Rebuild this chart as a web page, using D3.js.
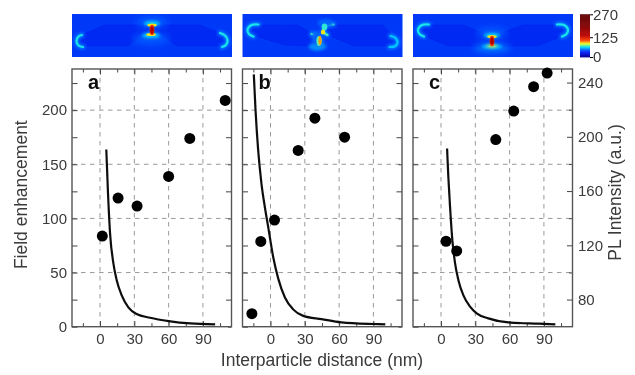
<!DOCTYPE html>
<html>
<head>
<meta charset="utf-8">
<script src="https://cdn.jsdelivr.net/npm/d3@7"></script>
<style>
body { margin: 0; background: #fff; }
text { font-family: "Liberation Sans", Arial, sans-serif; fill: #3a3a3a; }
</style>
</head>
<body>
<div id="chart-area"></div>
<script>
// scatter points
const panelNames = ["a", "b", "c"];
const distA = [2, 15.8, 32.4, 60, 78.5, 109.5];
const fieldA = [83.7, 118.8, 111.4, 138.8, 173.9, 209];
const distB = [-16.3, -8.5, 3.5, 24.2, 38.8, 64.8];
const fieldB = [12, 78.8, 98.5, 162.8, 192.6, 175];
const distC = [4.4, 13.7, 47.9, 63.6, 81, 92.8];
const plC = [123, 115.9, 198, 219, 237, 247];

// solid curves
const curveXA = [5.5, 7, 8.8, 11.7, 14.6, 19, 24.8, 32, 43.8, 60, 79, 100.7];
const curveYA = [163.7, 123, 86, 58.5, 43, 29, 17.8, 11.7, 8.3, 5.2, 3, 2.2];
const curveXB = [-14.6, -13.1, -10.8, -7.9, -5, -2, 2.3, 6.7, 12.6, 19.8, 28.6, 44.7, 62, 90, 100.4];
const curveYB = [233, 200, 163, 132, 110.8, 92, 64.6, 44.6, 27, 16, 10, 7, 4, 2.5, 2.2];
const curveXC = [5.3, 6.4, 7.9, 9.9, 12.3, 15.2, 19.6, 25.4, 31.2, 41.4, 58.9, 85.2, 100];
const curveYC = [164.6, 138.5, 110.8, 80, 58.5, 43, 29, 18.5, 12.3, 7.7, 4, 2.8, 2.2];

// tick values
const xMajor = [0, 30, 60, 90];
const xMinor = [-15, 15, 45, 75, 105];
const yMajor = [0, 50, 100, 150, 200];
const yMinor = [25, 75, 125, 175, 225];
const plMajor = [80, 120, 160, 200, 240];
const plMinor = [100, 140, 180, 220];
const barTicks = [0, 125, 270];

// colour map of the field images
const jetStops = [0, 25, 42, 64, 85, 106, 138, 200, 270];
const jetColors = ["#00008f", "#0010e8", "#0048ff", "#00e0ff", "#f0ff20", "#ff4000", "#b80000", "#800000", "#600000"];

// field images, read in image pixels: [x, y, rx, ry, field]
const spotsA = [[80, 8, 16, 6, 44], [79, 25, 18, 6, 44], [80, 9.5, 8, 2.6, 62], [79, 21.5, 9, 2.6, 62], [80, 11, 4.8, 1.6, 88], [79, 20.5, 4.8, 1.5, 88], [80, 16, 2.4, 5.2, 112], [80, 16, 1.8, 3.6, 150]];
const spotsB = [[83, 9, 8, 4, 46], [75, 32.5, 9, 4, 52], [75, 24, 6, 7, 46], [82, 13, 2.8, 3.4, 68], [76.5, 27, 2.6, 5, 72], [77.5, 26.5, 1.6, 4.5, 96], [80.5, 18, 2.2, 2.6, 88]];
const spotsC = [[79, 19, 15, 6, 44], [79, 34, 18, 5, 48], [79, 21.5, 8, 2.6, 62], [79, 32.5, 10, 2, 62], [79, 22.5, 4.8, 1.6, 88], [79, 32, 5.2, 1.3, 88], [79, 27, 2.4, 5.2, 112], [79, 27, 1.8, 3.6, 150]];

// particle rims: points and field
const rimsA = [
  { pts: [[10, 21], [6.5, 22.5], [4.5, 27], [6.5, 31.5], [11, 33]], v: 66 },
  { pts: [[148, 19], [153, 21.5], [155.5, 26], [154, 31], [150, 33]], v: 66 }
];
const rimsB = [
  { pts: [[16, 10.5], [9, 11], [5, 15.5], [6.5, 20], [11, 22.5]], v: 66 },
  { pts: [[148, 22], [153, 24], [155, 28], [153, 32], [147, 33]], v: 60 },
  { pts: [[91, 10.5], [85, 11], [81, 15], [82, 19], [85, 21]], v: 70 },
  { pts: [[69, 20], [75, 22.5], [78.5, 27], [77, 31], [73, 33]], v: 70 }
];
const rimsC = [
  { pts: [[16, 10.5], [9, 11], [5, 15.5], [6.5, 20], [11, 22.5]], v: 66 },
  { pts: [[144, 10.5], [151, 11], [155, 15.5], [153.5, 20], [149, 22.5]], v: 66 }
];

// particle outlines
const shapesA = [[[7, 22], [33, 11], [76, 11], [78, 15], [55, 32], [10, 32], [6, 27]], [[153, 21], [127, 11], [84, 11], [82, 15], [105, 32], [150, 32], [154, 27]]];
const shapesB = [[[10, 11.5], [55, 11], [77, 24], [74, 32], [42, 31], [7, 20]], [[85, 11], [140, 11], [154, 26], [150, 32], [112, 32], [83, 20]]];
const shapesC = [[[9, 11], [50, 11], [77, 22], [77, 32], [36, 32], [6, 20]], [[151, 11], [110, 11], [81, 22], [81, 32], [124, 32], [154, 20]]];

const heatLefts = [72, 242.5, 413];
const lefts = [72, 242.5, 413];

let margin = { top: 69, bottom: 48 };
let width = 159.5;
let height = 375 - margin.top - margin.bottom - 0.3;

let svg = d3.select("#chart-area")
  .append("svg")
  .attr("width", 635)
  .attr("height", 375);

let defs = svg.append("defs");
defs.append("filter")
  .attr("id", "soft")
  .attr("filterUnits", "userSpaceOnUse")
  .attr("x", 0).attr("y", 0).attr("width", 635).attr("height", 375)
  .append("feGaussianBlur")
  .attr("stdDeviation", 0.45);
[["blur1", 0.7], ["blur2", 1.5], ["blur3", 3]].forEach(function (f) {
  defs.append("filter")
    .attr("id", f[0])
    .attr("filterUnits", "userSpaceOnUse")
    .attr("x", -20).attr("y", -20).attr("width", 200).attr("height", 83)
    .append("feGaussianBlur")
    .attr("stdDeviation", f[1]);
});

let root = svg.append("g").attr("filter", "url(#soft)");

let x = d3.scaleLinear().domain([-24.5, 115]).range([0, width]);
let y = d3.scaleLinear().domain([0, 238]).range([height, 0]);
let yPL = d3.scaleLinear().domain([60, 250]).range([height, 0]);
let jet = d3.scaleLinear().domain(jetStops).range(jetColors);

let line = d3.line()
  .x(function (d) { return x(d[0]); })
  .y(function (d) { return y(d[1]); })
  .curve(d3.curveMonotoneX);

function drawHeat(i, spots, rims, shapes) {
  let clipId = "heat" + i;
  defs.append("clipPath").attr("id", clipId)
    .append("rect").attr("width", 160).attr("height", 43);

  let frame = root.append("g").attr("transform", "translate(" + heatLefts[i] + ",14)");
  frame.append("rect").attr("width", 160).attr("height", 43).attr("fill", jet(37));
  let g = frame.append("g").attr("clip-path", "url(#" + clipId + ")");

  let smooth = d3.line().curve(d3.curveCatmullRom);

  // particles sit a little darker than the field around them
  g.selectAll(".shape").data(shapes).enter().append("path")
    .attr("d", function (d) { return d3.line()(d) + "Z"; })
    .attr("fill", jet(33))
    .attr("stroke", jet(30)).attr("stroke-width", 0.6)
    .attr("filter", "url(#blur1)");

  let rimPath = function (d) { return smooth(d.pts); };
  g.selectAll(".halo").data(rims).enter().append("path")
    .attr("d", rimPath)
    .attr("fill", "none")
    .attr("stroke", jet(50)).attr("stroke-width", 5).attr("stroke-linecap", "round")
    .attr("filter", "url(#blur2)");
  g.selectAll(".mid").data(rims).enter().append("path")
    .attr("d", rimPath)
    .attr("fill", "none")
    .attr("stroke", function (d) { return jet(d.v); }).attr("stroke-width", 2.2).attr("stroke-linecap", "round")
    .attr("filter", "url(#blur1)");

  g.selectAll(".spot").data(spots).enter().append("ellipse")
    .attr("cx", function (d) { return d[0]; })
    .attr("cy", function (d) { return d[1]; })
    .attr("rx", function (d) { return d[2]; })
    .attr("ry", function (d) { return d[3]; })
    .attr("fill", function (d) { return jet(d[4]); })
    .attr("filter", function (d) { return d[2] > 10 ? "url(#blur3)" : d[2] > 5 ? "url(#blur2)" : "url(#blur1)"; });
}

drawHeat(0, spotsA, rimsA, shapesA);
drawHeat(1, spotsB, rimsB, shapesB);
drawHeat(2, spotsC, rimsC, shapesC);

// colour bar
let barY = d3.scaleLinear().domain([0, 270]).range([57, 14.3]);
let bar = root.append("g").attr("transform", "translate(580,0)");
bar.selectAll("rect")
  .data(d3.range(0, 270, 3))
  .enter()
  .append("rect")
  .attr("x", 0)
  .attr("y", function (d) { return barY(d + 3); })
  .attr("width", 10)
  .attr("height", function (d) { return barY(d) - barY(d + 3) + 0.4; })
  .attr("fill", function (d) { return jet(d); });

let barAxis = d3.axisRight(barY).tickValues(barTicks).tickSize(3).tickPadding(0).tickSizeOuter(0);
bar.append("g")
  .attr("transform", "translate(10,0)")
  .call(barAxis)
  .call(function (g) { g.select(".domain").remove(); })
  .selectAll("text").attr("font-size", 15).attr("font-family", null);

function styleAxis(g) {
  g.select(".domain").remove();
  g.selectAll("line").attr("stroke", "#444").attr("stroke-width", 1);
}

function drawPanel(i, xs, ys, plot, curveX, curveY) {
  let g = root.append("g")
    .attr("transform", "translate(" + lefts[i] + "," + margin.top + ")");

  // grid
  g.selectAll(".gx").data(xMajor).enter().append("line")
    .attr("x1", x).attr("x2", x).attr("y1", 0).attr("y2", height)
    .attr("stroke", "#999").attr("stroke-dasharray", "4.5,4.5");
  g.selectAll(".gy").data(yMajor.slice(1)).enter().append("line")
    .attr("y1", y).attr("y2", y).attr("x1", 0).attr("x2", width)
    .attr("stroke", "#999").attr("stroke-dasharray", "4.5,4.5");

  // x axes, ticks point inward
  let bottom = d3.axisBottom(x).tickValues(xMajor).tickSizeInner(-5.5).tickSizeOuter(0).tickPadding(7);
  g.append("g").attr("transform", "translate(0," + height + ")").call(bottom).call(styleAxis)
    .selectAll("text").attr("font-size", 15).attr("font-family", null);
  g.append("g").attr("transform", "translate(0," + height + ")")
    .call(d3.axisBottom(x).tickValues(xMinor).tickSizeInner(-3.5).tickSizeOuter(0).tickFormat(""))
    .call(styleAxis);
  g.append("g").call(d3.axisTop(x).tickValues(xMajor).tickSizeInner(-5.5).tickSizeOuter(0).tickFormat("")).call(styleAxis);
  g.append("g").call(d3.axisTop(x).tickValues(xMinor).tickSizeInner(-3.5).tickSizeOuter(0).tickFormat("")).call(styleAxis);

  // y axes
  let left = d3.axisLeft(y).tickValues(yMajor).tickSizeInner(-5.5).tickSizeOuter(0).tickPadding(5);
  if (i > 0) left.tickFormat("");
  g.append("g").call(left).call(styleAxis)
    .selectAll("text").attr("font-size", 15).attr("font-family", null);
  g.append("g").call(d3.axisLeft(y).tickValues(yMinor).tickSizeInner(-5.5).tickSizeOuter(0).tickFormat("")).call(styleAxis);

  if (i === 2) {
    g.append("g").attr("transform", "translate(" + width + ",0)")
      .call(d3.axisRight(yPL).tickValues(plMajor).tickSizeInner(-5.5).tickSizeOuter(0).tickPadding(5.5))
      .call(styleAxis)
      .selectAll("text").attr("font-size", 15).attr("font-family", null);
    g.append("g").attr("transform", "translate(" + width + ",0)")
      .call(d3.axisRight(yPL).tickValues(plMinor).tickSizeInner(-3.5).tickSizeOuter(0).tickFormat(""))
      .call(styleAxis);
  } else {
    g.append("g").attr("transform", "translate(" + width + ",0)")
      .call(d3.axisRight(y).tickValues(yMajor).tickSizeInner(-3.5).tickSizeOuter(0).tickFormat("")).call(styleAxis);
    g.append("g").attr("transform", "translate(" + width + ",0)")
      .call(d3.axisRight(y).tickValues(yMinor).tickSizeInner(-5.5).tickSizeOuter(0).tickFormat("")).call(styleAxis);
  }

  // frame
  g.append("rect").attr("width", width).attr("height", height)
    .attr("fill", "none").attr("stroke", "#555").attr("stroke-width", 1.4);

  // curve
  g.append("path")
    .datum(curveX.map(function (d, k) { return [d, curveY[k]]; }))
    .attr("d", line)
    .attr("fill", "none")
    .attr("stroke", "#111")
    .attr("stroke-width", 2.2);

  // points
  g.selectAll("circle")
    .data(xs.map(function (d, k) { return [d, ys[k]]; }))
    .enter()
    .append("circle")
    .attr("cx", function (d) { return x(d[0]); })
    .attr("cy", function (d) { return plot(d[1]); })
    .attr("r", 5.5)
    .attr("fill", "#000");

  // panel letter
  g.append("text")
    .text(panelNames[i])
    .attr("x", 16)
    .attr("y", 20)
    .attr("font-size", 20)
    .attr("font-weight", "bold")
    .style("fill", "#111");
}

drawPanel(0, distA, fieldA, y, curveXA, curveYA);
drawPanel(1, distB, fieldB, y, curveXB, curveYB);
drawPanel(2, distC, plC, yPL, curveXC, curveYC);

// axis titles
root.append("text")
  .text("Field enhancement")
  .attr("transform", "translate(27,194.7) rotate(-90)")
  .attr("text-anchor", "middle")
  .attr("font-size", 17.5);

root.append("text")
  .text("PL Intensity (a.u.)")
  .attr("transform", "translate(621,192.5) rotate(-90)")
  .attr("text-anchor", "middle")
  .attr("font-size", 17.5);

root.append("text")
  .text("Interparticle distance (nm)")
  .attr("x", 322)
  .attr("y", 366)
  .attr("text-anchor", "middle")
  .attr("font-size", 17.5);
</script>
</body>
</html>
